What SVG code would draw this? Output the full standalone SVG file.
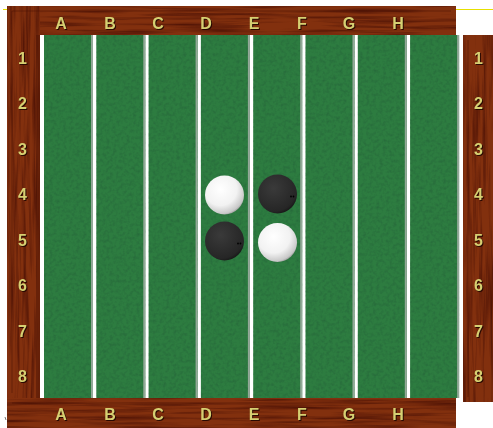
<svg xmlns="http://www.w3.org/2000/svg" width="493" height="428" viewBox="0 0 493 428">
<defs>
<style>
.lbl{font-family:"Liberation Sans",Arial,sans-serif;font-weight:bold;font-size:16px;fill:#d6d072;text-anchor:middle;filter:url(#sh)}
.col{fill:#2d7c40;filter:url(#felt)}
.edge{fill:#93a898}
.wood{fill:#82300e}
filter{color-interpolation-filters:sRGB}
</style>
<filter id="sh" x="-30%" y="-30%" width="160%" height="160%" color-interpolation-filters="sRGB">
<feDropShadow dx="1" dy="1" stdDeviation="0.5" flood-color="#200600" flood-opacity="0.9"/>
</filter>
<filter id="woodH" x="0" y="0" width="100%" height="100%" color-interpolation-filters="sRGB">
<feTurbulence type="fractalNoise" baseFrequency="0.012 0.3" numOctaves="3" seed="4" result="n"/>
<feColorMatrix in="n" type="matrix" values="0 0 0 0 0.3  0 0 0 0 0.07  0 0 0 0 0.02  2.0 0 0 0 -0.85" result="d"/>
<feComposite in="d" in2="SourceAlpha" operator="in" result="dc"/>
<feMerge><feMergeNode in="SourceGraphic"/><feMergeNode in="dc"/></feMerge>
</filter>
<filter id="woodV" x="0" y="0" width="100%" height="100%" color-interpolation-filters="sRGB">
<feTurbulence type="fractalNoise" baseFrequency="0.3 0.012" numOctaves="3" seed="7" result="n"/>
<feColorMatrix in="n" type="matrix" values="0 0 0 0 0.3  0 0 0 0 0.07  0 0 0 0 0.02  2.0 0 0 0 -0.85" result="d"/>
<feComposite in="d" in2="SourceAlpha" operator="in" result="dc"/>
<feMerge><feMergeNode in="SourceGraphic"/><feMergeNode in="dc"/></feMerge>
</filter>
<filter id="felt" x="0" y="0" width="100%" height="100%" color-interpolation-filters="sRGB">
<feTurbulence type="fractalNoise" baseFrequency="0.3" numOctaves="2" seed="2" result="n"/>
<feColorMatrix in="n" type="matrix" values="0 0 0 0 0.14  0 0 0 0 0.38  0 0 0 0 0.22  1.2 0 0 0 -0.5" result="d"/>
<feComposite in="d" in2="SourceAlpha" operator="in" result="dc"/>
<feMerge><feMergeNode in="SourceGraphic"/><feMergeNode in="dc"/></feMerge>
</filter>
<radialGradient id="wg" cx="0.4" cy="0.35" r="0.7">
<stop offset="0" stop-color="#ffffff"/>
<stop offset="0.6" stop-color="#f2f2f2"/>
<stop offset="0.9" stop-color="#c8c8c8"/>
<stop offset="1" stop-color="#8a8a8a"/>
</radialGradient>
<radialGradient id="bg" cx="0.4" cy="0.35" r="0.7">
<stop offset="0" stop-color="#3a3a3a"/>
<stop offset="0.85" stop-color="#262626"/>
<stop offset="1" stop-color="#141414"/>
</radialGradient>
</defs>
<rect width="493" height="428" fill="#ffffff"/>
<g id="frame">
<rect class="wood" x="7" y="6" width="449" height="29" filter="url(#woodH)"/>
<rect class="wood" x="7" y="6" width="33" height="392" filter="url(#woodV)"/>
<rect class="wood" x="7" y="398" width="449" height="30" filter="url(#woodH)"/>
<rect class="wood" x="463" y="35" width="30" height="367" filter="url(#woodV)"/>
<path d="M12 11H451M12 11V393M12 403H451M468 40V397" fill="none" stroke="#4a1204" stroke-width="1" opacity="0.5"/>
<rect x="36" y="35" width="4" height="363" fill="#4a1204" opacity="0.45"/>
</g>
<g id="marks">
<line x1="3" y1="9.5" x2="7" y2="9.5" stroke="#e6e000" stroke-width="1"/>
<line x1="456" y1="9.5" x2="493" y2="9.5" stroke="#e6e000" stroke-width="1"/>
<line x1="5" y1="417" x2="6" y2="420" stroke="#777" stroke-width="1"/>
</g>
<g id="board">
<rect class="col" x="44" y="35" width="49" height="363"/><rect class="edge" x="91" y="35" width="2" height="363"/>
<rect class="col" x="96.3" y="35" width="49" height="363"/><rect class="edge" x="143.3" y="35" width="2" height="363"/>
<rect class="col" x="148.6" y="35" width="49" height="363"/><rect class="edge" x="195.6" y="35" width="2" height="363"/>
<rect class="col" x="200.9" y="35" width="49" height="363"/><rect class="edge" x="247.9" y="35" width="2" height="363"/>
<rect class="col" x="253.2" y="35" width="49" height="363"/><rect class="edge" x="300.2" y="35" width="2" height="363"/>
<rect class="col" x="305.5" y="35" width="49" height="363"/><rect class="edge" x="352.5" y="35" width="2" height="363"/>
<rect class="col" x="357.8" y="35" width="49" height="363"/><rect class="edge" x="404.8" y="35" width="2" height="363"/>
<rect class="col" x="410.1" y="35" width="49" height="363"/><rect class="edge" x="457.1" y="35" width="2" height="363"/>
</g>
<g id="labels-top">
<text class="lbl" x="61" y="29">A</text><text class="lbl" x="110" y="29">B</text><text class="lbl" x="158" y="29">C</text><text class="lbl" x="206" y="29">D</text><text class="lbl" x="254" y="29">E</text><text class="lbl" x="302" y="29">F</text><text class="lbl" x="349" y="29">G</text><text class="lbl" x="398" y="29">H</text>
</g>
<g id="labels-bottom">
<text class="lbl" x="61" y="420">A</text><text class="lbl" x="110" y="420">B</text><text class="lbl" x="158" y="420">C</text><text class="lbl" x="206" y="420">D</text><text class="lbl" x="254" y="420">E</text><text class="lbl" x="302" y="420">F</text><text class="lbl" x="349" y="420">G</text><text class="lbl" x="398" y="420">H</text>
</g>
<g id="labels-left">
<text class="lbl" x="22.5" y="64">1</text><text class="lbl" x="22.5" y="109.4">2</text><text class="lbl" x="22.5" y="154.9">3</text><text class="lbl" x="22.5" y="200.3">4</text><text class="lbl" x="22.5" y="245.7">5</text><text class="lbl" x="22.5" y="291.1">6</text><text class="lbl" x="22.5" y="336.6">7</text><text class="lbl" x="22.5" y="382">8</text>
</g>
<g id="labels-right">
<text class="lbl" x="478.5" y="64">1</text><text class="lbl" x="478.5" y="109.4">2</text><text class="lbl" x="478.5" y="154.9">3</text><text class="lbl" x="478.5" y="200.3">4</text><text class="lbl" x="478.5" y="245.7">5</text><text class="lbl" x="478.5" y="291.1">6</text><text class="lbl" x="478.5" y="336.6">7</text><text class="lbl" x="478.5" y="382">8</text>
</g>
<g id="d4"><circle cx="224.5" cy="195" r="19.5" fill="url(#wg)"/></g>
<g id="e4"><circle cx="277.5" cy="194" r="19.5" fill="url(#bg)"/><circle cx="291" cy="196.5" r="0.9" fill="#000"/><circle cx="293.5" cy="196.5" r="0.9" fill="#000"/></g>
<g id="d5"><circle cx="224.5" cy="241" r="19.5" fill="url(#bg)"/><circle cx="238" cy="243.5" r="0.9" fill="#000"/><circle cx="240.5" cy="243.5" r="0.9" fill="#000"/></g>
<g id="e5"><circle cx="277.5" cy="242.5" r="19.5" fill="url(#wg)"/></g>
</svg>
